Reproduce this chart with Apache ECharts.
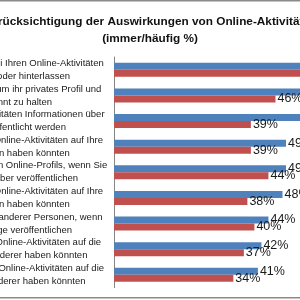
<!DOCTYPE html>
<html>
<head>
<meta charset="utf-8">
<script src="https://cdn.jsdelivr.net/npm/echarts@6/dist/echarts.min.js"></script>
<style>
  html, body { margin: 0; padding: 0; background: #fff; }
  #main { width: 300px; height: 300px; }
</style>
</head>
<body>
<div id="main"></div>
<script>
// Kategorien von oben nach unten (Zeilenumbruch wie im Original)
const categories = [
  'Inhalte, die Sie bei Ihren Online-Aktivitäten\nansehen oder hinterlassen',
  'Anstrengungen, um ihr privates Profil und\ngetrennt zu halten',
  'Ob bei Ihren Aktivitäten Informationen über\nSie veröffentlicht werden',
  'Folgen, die Ihre Online-Aktivitäten auf Ihre\nReputation haben könnten',
  'Prüfen des eigenen Online-Profils, wenn Sie\nInhalte darüber veröffentlichen',
  'Effekte, die Ihre Online-Aktivitäten auf Ihre\nReputation haben könnten',
  'Die Privatsphäre anderer Personen, wenn\nSie Beiträge veröffentlichen',
  'Folgen, die Ihre Online-Aktivitäten auf die\nReputation anderer haben könnten',
  'Wirkung, die Ihre Online-Aktivitäten auf die\nSicherheit anderer haben könnten'
]
const seriesNames = ['Serie A', 'Serie B']
const blueValues = [58, 55, 54, 49, 49, 48, 44, 42, 41]
const redValues = [54, 46, 39, 39, 44, 38, 40, 37, 34]

const myChart = echarts.init(document.getElementById('main'))

const labelStyle = {
  show: true,
  position: 'right',
  distance: 2,
  formatter: '{c}%',
  fontFamily: 'Liberation Sans',
  fontSize: 12.5,
  color: '#1a1a1a'
}

const options = {
  backgroundColor: '#fff',
  animation: false,
  title: {
    text: 'Berücksichtigung der Auswirkungen von Online-Aktivitäten\n(immer/häufig %)',
    left: 'center',
    top: 8,
    textStyle: {
      fontFamily: 'Liberation Sans',
      fontSize: 11.8,
      fontWeight: 'bold',
      color: '#111',
      lineHeight: 17
    }
  },
  graphic: [
    {
      type: 'rect',
      shape: { x: -5, y: 0.75, width: 310, height: 297 },
      style: { fill: 'none', stroke: '#8a8a8a', lineWidth: 1.5 },
      silent: true
    }
  ],
  grid: {
    left: 114,
    top: 57,
    width: 351,
    height: 230.6,
    outerBoundsMode: 'none'
  },
  xAxis: {
    type: 'value',
    min: 0,
    max: 100,
    show: false
  },
  yAxis: {
    type: 'category',
    inverse: true,
    data: categories,
    axisLine: { lineStyle: { color: '#868686', width: 1 } },
    axisTick: { length: 3, lineStyle: { color: '#868686' } },
    axisLabel: {
      interval: 0,
      align: 'center',
      margin: 100,
      fontFamily: 'Liberation Sans',
      fontSize: 9.5,
      lineHeight: 13,
      color: '#1a1a1a'
    }
  },
  series: [
    {
      name: seriesNames[0],
      type: 'bar',
      barWidth: 7,
      barGap: '0%',
      itemStyle: { color: '#4F81BD' },
      label: labelStyle,
      data: blueValues
    },
    {
      name: seriesNames[1],
      type: 'bar',
      barWidth: 7,
      barGap: '0%',
      itemStyle: { color: '#C0504D' },
      label: labelStyle,
      data: redValues
    }
  ]
}

myChart.setOption(options)
</script>
</body>
</html>
